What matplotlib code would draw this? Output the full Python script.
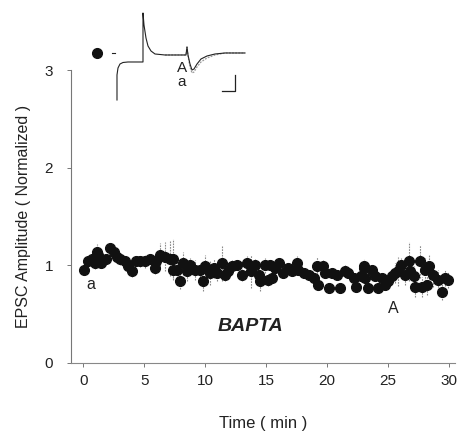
import numpy as np
import matplotlib
matplotlib.use('Agg')
import matplotlib.pyplot as plt

plt.rcParams['font.family'] = ['Liberation Sans', 'DejaVu Sans']

# time course (min) and normalized EPSC amplitude
time_min = [0.1, 0.4, 0.7, 1.0, 1.1, 1.25, 1.5, 1.9, 2.2, 2.5, 2.75, 3.0, 3.45, 3.7, 4.0,
            4.3, 4.7, 5.1, 5.5, 5.9, 6.0, 6.3, 6.7, 7.1, 7.35, 7.4, 7.7, 7.95, 8.2, 8.5,
            8.8, 9.2, 9.6, 9.85, 10.0, 10.4, 10.7, 11.0, 11.4, 11.6, 11.9, 12.2, 12.6, 13.0,
            13.4, 13.8, 14.1, 14.4, 14.5, 14.9, 15.2, 15.3, 15.5, 15.7, 16.1, 16.4, 16.8,
            17.1, 17.5, 17.65, 18.1, 18.5, 18.9, 19.2, 19.3, 19.7, 19.8, 20.2, 20.4, 20.8,
            21.1, 21.5, 21.7, 22.2, 22.4, 22.8, 23.0, 23.05, 23.1, 23.4, 23.7, 23.9, 24.2,
            24.5, 24.75, 25.0, 25.3, 25.6, 25.85, 26.1, 26.4, 26.7, 26.8, 27.1, 27.2, 27.6,
            27.8, 28.0, 28.2, 28.4, 28.7, 29.1, 29.4, 29.7, 29.95]
amplitude = [0.955, 1.04, 1.07, 1.02, 1.14, 1.11, 1.02, 1.06, 1.18, 1.14, 1.09, 1.06, 1.04, 0.99, 0.94,
             1.04, 1.04, 1.04, 1.06, 0.97, 1.04, 1.11, 1.09, 1.07, 1.07, 0.955, 0.955, 0.835, 1.02, 0.94,
             1.0, 0.955, 0.955, 0.835, 0.99, 0.92, 0.97, 0.92, 1.02, 0.90, 0.94, 0.99, 1.0, 0.90,
             1.02, 0.94, 1.0, 0.90, 0.835, 1.0, 0.85, 1.0, 0.87, 0.97, 1.02, 0.92, 0.97,
             0.94, 1.02, 0.955, 0.92, 0.90, 0.87, 0.99, 0.80, 0.99, 0.92, 0.77, 0.92, 0.90,
             0.77, 0.94, 0.92, 0.87, 0.78, 0.89, 0.99, 0.97, 0.87, 0.77, 0.955, 0.89, 0.77,
             0.87, 0.80, 0.835, 0.89, 0.92, 0.94, 1.0, 0.90, 1.04, 0.94, 0.89, 0.78, 1.04,
             0.78, 0.955, 0.80, 0.99, 0.90, 0.85, 0.73, 0.87, 0.85]
sem = [0.04, 0.05, 0.08, 0.06, 0.08, 0.05, 0.05, 0.06, 0.05, 0.05, 0.05, 0.06, 0.05, 0.06, 0.06,
       0.05, 0.06, 0.07, 0.05, 0.06, 0.05, 0.12, 0.15, 0.18, 0.2, 0.1, 0.08, 0.08, 0.12, 0.1,
       0.08, 0.1, 0.07, 0.1, 0.12, 0.12, 0.1, 0.08, 0.18, 0.06, 0.08, 0.06, 0.05, 0.06,
       0.08, 0.17, 0.06, 0.06, 0.1, 0.08, 0.06, 0.05, 0.05, 0.05, 0.06, 0.05, 0.05,
       0.05, 0.08, 0.05, 0.05, 0.05, 0.05, 0.1, 0.05, 0.06, 0.05, 0.05, 0.05, 0.05,
       0.05, 0.06, 0.05, 0.05, 0.05, 0.06, 0.07, 0.05, 0.06, 0.05, 0.05, 0.05, 0.05,
       0.05, 0.05, 0.06, 0.06, 0.1, 0.15, 0.08, 0.1, 0.2, 0.08, 0.1, 0.1, 0.17,
       0.1, 0.12, 0.1, 0.13, 0.12, 0.1, 0.08, 0.08, 0.08]

# inset example traces (ms, arbitrary current units)
trace_t = [0, 0, 0.5, 1.5, 3, 5.5, 13, 13, 13.5, 14.5, 15.5, 17, 19, 24, 34.5, 35, 35.5,
           36.5, 37.5, 38.5, 40, 42, 45, 49, 54, 64]
trace_A = [-4.7, -2.2, -1.5, -1.1, -0.95, -0.9, -0.9, 4.0, 2.8, 1.5, 0.7, 0.2, -0.1, -0.2,
           -0.2, 0.6, -0.2, -1.1, -1.7, -1.6, -1.1, -0.6, -0.3, -0.1, 0.0, 0.0]
trace_a_t = [24, 34.5, 35, 35.5, 36.5, 37.5, 38.5, 40, 42, 45, 49, 54, 64]
trace_a = [-0.2, -0.2, 0.6, -0.3, -1.4, -2.0, -1.9, -1.4, -0.9, -0.5, -0.2, 0.0, 0.0]

fig = plt.figure(figsize=(4.61, 4.34), dpi=100)
ax = fig.add_axes([0.154, 0.1636, 0.833, 0.675])

eb = ax.errorbar(time_min, amplitude, yerr=sem, fmt='o', color='#111111', ms=7,
                 ecolor='#8a8a8a', elinewidth=0.8, capsize=0, zorder=3)
eb[2][0].set_linestyle((0, (1.5, 1)))

ax.set_xlim(-1, 30.5)
ax.set_ylim(0, 3)
ax.set_xticks([0, 5, 10, 15, 20, 25, 30])
ax.set_yticks([0, 1, 2, 3])
for s in ['top', 'right']:
    ax.spines[s].set_visible(False)
ax.spines['left'].set_linestyle((0, (1.5, 1)))
ax.spines['left'].set_color('#777777')
ax.spines['bottom'].set_color('#888888')
ax.spines['left'].set_linewidth(0.8)
ax.spines['bottom'].set_linewidth(0.8)
ax.tick_params(axis='both', direction='out', length=3, width=0.7, color='#777777',
               labelsize=11, labelcolor='#222222')
ax.tick_params(axis='x', pad=5)
ax.tick_params(axis='y', pad=10)

ax.set_xlabel('Time ( min )', fontsize=12, color='#222222', labelpad=20)
ax.set_ylabel('EPSC Amplitude ( Normalized )', fontsize=11.5, color='#222222', labelpad=10)

ax.text(0.6, 0.8, 'a', fontsize=11.5, ha='center', va='center', color='#222222')
ax.text(25.4, 0.56, 'A', fontsize=11.5, ha='center', va='center', color='#222222')
ax.text(13.7, 0.37, 'BAPTA', fontsize=14, fontweight='bold', fontstyle='italic',
        ha='center', va='center', color='#222222')

# inset
ins = fig.add_axes([0.1952, 0.7581, 0.3471, 0.2304])
ins.set_xlim(-13.5, 66.5)
ins.set_ylim(-5.2, 4.8)
ins.axis('off')
ins.plot(trace_a_t, trace_a, color='#9a9a9a', lw=0.9, ls=(0, (1.5, 1)))
ins.plot(trace_t, trace_A, color='#222222', lw=0.8)
ins.plot([-2.5, -1], [0, 0], color='#222222', lw=0.8)
ins.plot([-10], [0], 'o', color='#111111', ms=7)
ins.plot([59, 59, 52.5], [-2.2, -3.8, -3.8], color='#222222', lw=0.9)
ins.text(32.5, -1.5, 'A', fontsize=11, ha='center', va='center', color='#222222')
ins.text(32.5, -2.9, 'a', fontsize=11, ha='center', va='center', color='#222222')

plt.savefig('out.png', dpi=100)
